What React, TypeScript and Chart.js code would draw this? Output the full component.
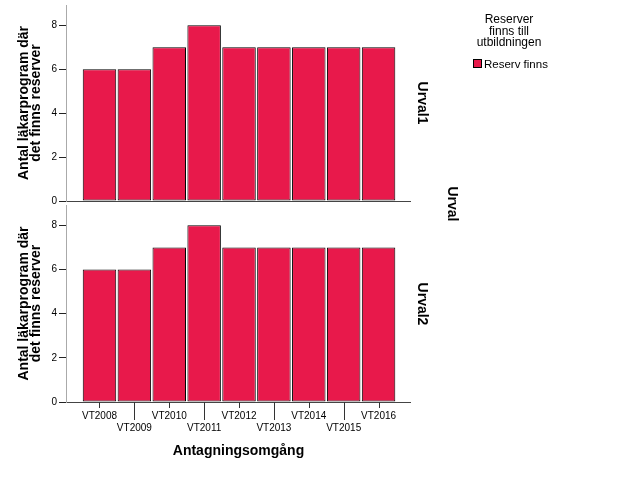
import React, { useEffect, useRef } from 'react';
import { Chart, registerables } from 'chart.js';

Chart.register(...registerables);

// ---- data ----
const categories = ['VT2008', 'VT2009', 'VT2010', 'VT2011', 'VT2012', 'VT2013', 'VT2014', 'VT2015', 'VT2016'];
const urval1Values = [6, 6, 7, 8, 7, 7, 7, 7, 7];
const urval2Values = [6, 6, 7, 8, 7, 7, 7, 7, 7];
const yTickValues = [0, 2, 4, 6, 8];
const seriesLabel = 'Reserv finns';
const legendTitleLines = ['Reserver', 'finns till', 'utbildningen'];
const yTitleLines = ['Antal läkarprogram där', 'det finns reserver'];
const xTitle = 'Antagningsomgång';
const panelLabels = ['Urval1', 'Urval2'];
const panelGroupLabel = 'Urval';

// ---- styling ----
const FONT = "'Liberation Sans', Arial, Helvetica, sans-serif";
const BAR_COLOR = '#e8194b';
const Y_MAX = 8.92;
const X_MIN = -0.96;
const X_MAX = 8.93;

const xTickMarks = {
  id: 'xTickMarks',
  afterDraw(chart: any) {
    const xs = chart.scales.x;
    const y0 = chart.chartArea.bottom;
    const ctx = chart.ctx;
    ctx.save();
    ctx.strokeStyle = '#333';
    ctx.lineWidth = 1;
    categories.forEach((_, i) => {
      const px = Math.round(xs.getPixelForValue(i)) + 0.5;
      ctx.beginPath();
      ctx.moveTo(px, y0);
      ctx.lineTo(px, y0 + (i % 2 === 0 ? 6 : 18));
      ctx.stroke();
    });
    ctx.restore();
  },
};

function makeConfig(values: number[], showX: boolean): any {
  return {
    type: 'bar',
    data: {
      datasets: [
        {
          label: seriesLabel,
          data: categories.map((_, i) => ({ x: i, y: values[i] })),
          backgroundColor: BAR_COLOR,
          borderColor: '#000',
          borderWidth: 1,
          borderSkipped: false,
          barPercentage: 0.96,
          categoryPercentage: 1,
        },
      ],
    },
    options: {
      responsive: false,
      animation: false,
      events: [],
      layout: {
        padding: showX
          ? { left: 0, right: 215, top: 5, bottom: 39 }
          : { left: 0, right: 215, top: 5, bottom: 11 },
      },
      plugins: { legend: { display: false }, tooltip: { enabled: false } },
      scales: {
        x: {
          type: 'linear',
          min: X_MIN,
          max: X_MAX,
          offset: false,
          display: showX,
          afterBuildTicks: (s: any) => {
            s.ticks = categories.map((_, i) => ({ value: i }));
          },
          afterFit: (s: any) => {
            s.height = showX ? 60 : 0;
            s.paddingLeft = 0;
            s.paddingRight = 0;
          },
          ticks: {
            autoSkip: false,
            maxRotation: 0,
            minRotation: 0,
            padding: 8.5,
            color: '#000',
            font: { family: FONT, size: 10, lineHeight: '12px' },
            callback: (_v: any, i: number) => (i % 2 === 0 ? categories[i] : ['', categories[i]]),
          },
          grid: { display: false, drawTicks: false, offset: false },
          border: { display: false },
          title: {
            display: true,
            text: xTitle,
            color: '#000',
            font: { family: FONT, size: 14, weight: 'bold' },
            padding: { top: 0, bottom: 2 },
          },
        },
        y: {
          min: 0,
          max: Y_MAX,
          afterBuildTicks: (s: any) => {
            s.ticks = yTickValues.map((v) => ({ value: v }));
          },
          afterFit: (s: any) => {
            s.width = 66;
            s.paddingTop = 0;
            s.paddingBottom = 0;
          },
          ticks: { color: '#000', padding: 2, font: { family: FONT, size: 10 } },
          grid: {
            color: (c: any) => (c.tick && c.tick.value === 0 ? '#444' : 'rgba(0,0,0,0)'),
            tickColor: '#222',
            tickLength: 7,
            drawTicks: true,
          },
          border: { display: true, color: '#aaa', width: 1 },
          title: {
            display: true,
            text: yTitleLines,
            color: '#000',
            font: { family: FONT, size: 14, weight: 'bold', lineHeight: '12px' },
            padding: { top: 18, bottom: 0 },
          },
        },
      },
    },
    plugins: showX ? [xTickMarks] : [],
  };
}

const rotLabel = (text: string, x: number, y: number, key: string) => (
  <div
    key={key}
    style={{
      position: 'absolute',
      left: x,
      top: y,
      transform: 'translate(-50%, -50%) rotate(90deg)',
      fontFamily: FONT,
      fontWeight: 'bold',
      fontSize: 14,
      whiteSpace: 'nowrap',
      lineHeight: '16px',
      color: '#000',
    }}
  >
    {text}
  </div>
);

export default function App() {
  const topRef = useRef<HTMLCanvasElement>(null);
  const botRef = useRef<HTMLCanvasElement>(null);

  useEffect(() => {
    const c1 = new Chart(topRef.current as HTMLCanvasElement, makeConfig(urval1Values, false));
    const c2 = new Chart(botRef.current as HTMLCanvasElement, makeConfig(urval2Values, true));
    return () => {
      c1.destroy();
      c2.destroy();
    };
  }, []);

  return (
    <div style={{ position: 'fixed', left: 0, top: 0, width: 626, height: 501, background: '#fff', overflow: 'hidden' }}>
      <canvas ref={topRef} width={626} height={212} style={{ position: 'absolute', left: 0, top: 0 }} />
      <canvas ref={botRef} width={626} height={301} style={{ position: 'absolute', left: 0, top: 200 }} />
      {rotLabel(panelLabels[0], 423, 103, 'p1')}
      {rotLabel(panelGroupLabel, 452.5, 204, 'pg')}
      {rotLabel(panelLabels[1], 423, 304, 'p2')}
      <div
        style={{
          position: 'absolute',
          left: 449,
          top: 14,
          width: 120,
          textAlign: 'center',
          fontFamily: FONT,
          fontSize: 12,
          lineHeight: '11.7px',
          color: '#000',
        }}
      >
        {legendTitleLines.map((l) => (
          <div key={l}>{l}</div>
        ))}
      </div>
      <div
        style={{
          position: 'absolute',
          left: 473,
          top: 59,
          width: 9,
          height: 9,
          boxSizing: 'border-box',
          background: BAR_COLOR,
          border: '1px solid #000',
        }}
      />
      <div
        style={{
          position: 'absolute',
          left: 484,
          top: 58,
          fontFamily: FONT,
          fontSize: 11.5,
          lineHeight: '12px',
          whiteSpace: 'nowrap',
          color: '#000',
        }}
      >
        {seriesLabel}
      </div>
    </div>
  );
}
